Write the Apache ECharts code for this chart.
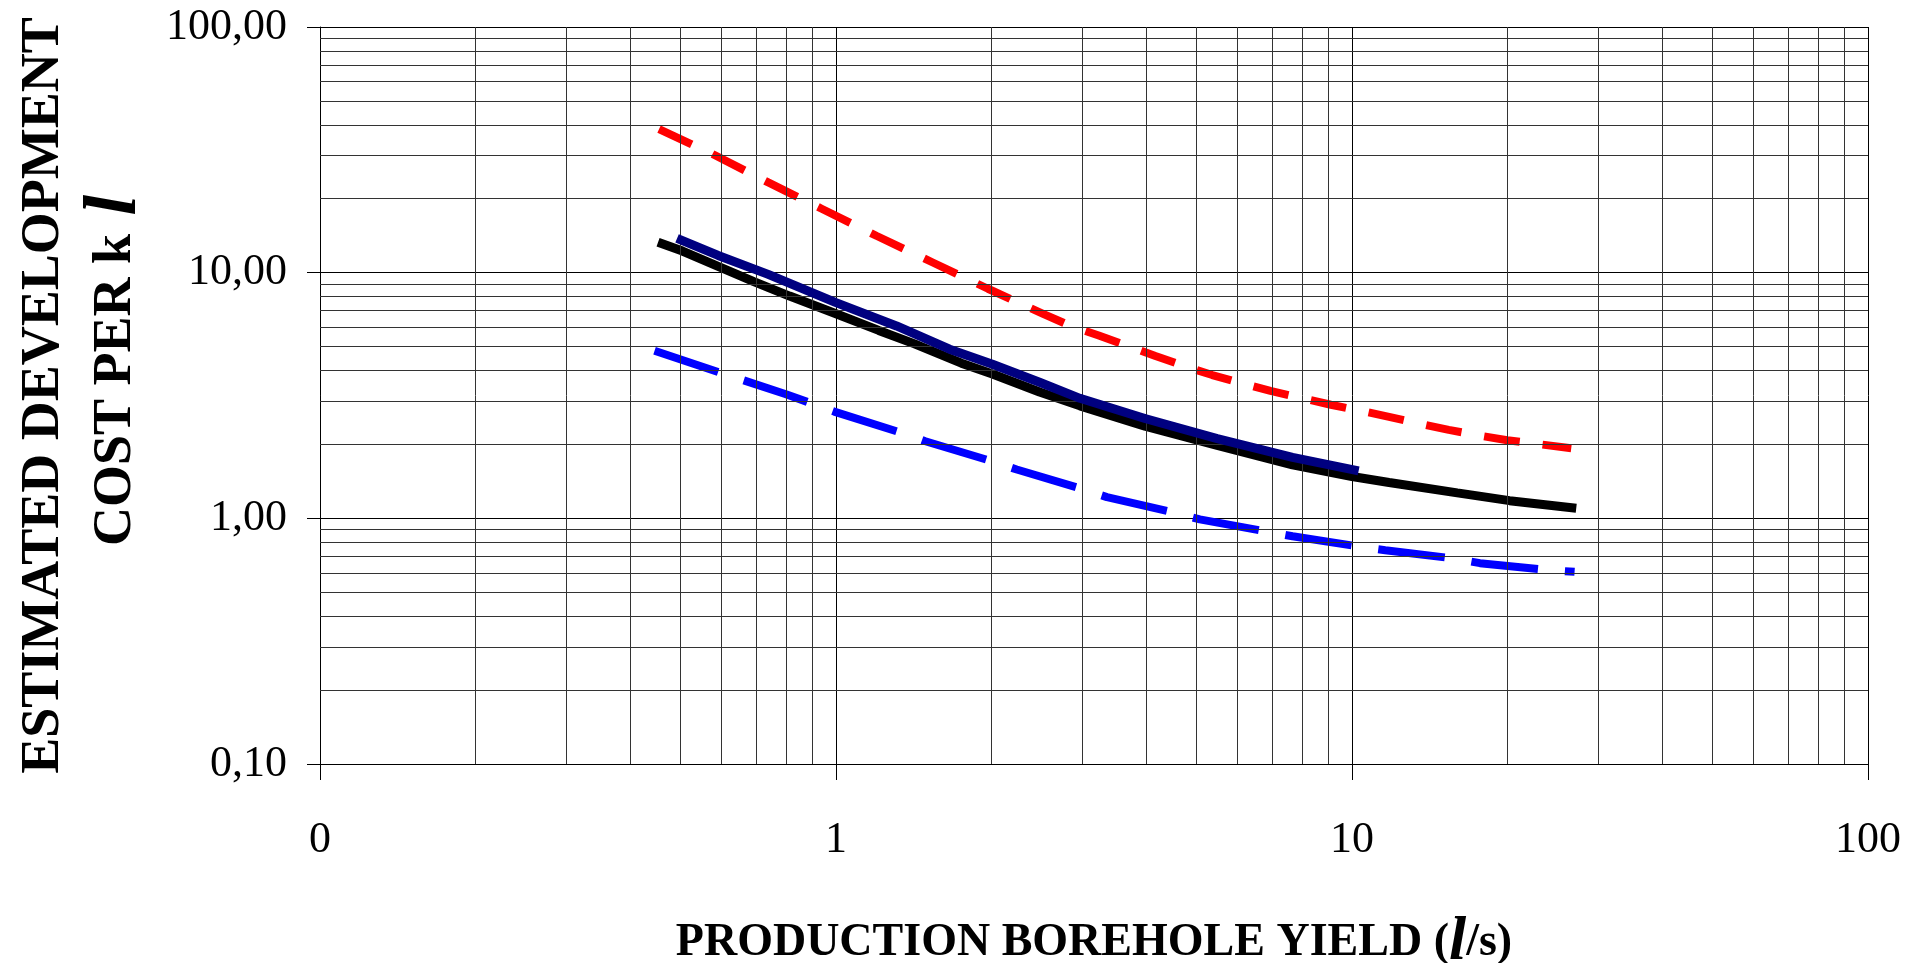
<!DOCTYPE html>
<html>
<head>
<meta charset="utf-8">
<script src="https://cdn.jsdelivr.net/npm/echarts@6/dist/echarts.min.js"></script>
<style>
  html, body { margin: 0; padding: 0; background: #ffffff; }
  #chart { width: 1926px; height: 963px; }
</style>
</head>
<body>
<div id="chart"></div>
<script>
// Axis ticks and their printed labels
const xTickValues = [0.1, 1, 10, 100];
const xTickLabels = ['0', '1', '10', '100'];
const yTickValues = [0.1, 1, 10, 100];
const yTickLabels = ['0,10', '1,00', '10,00', '100,00'];

// Upper estimate (red dashed)
const upperX = [0.454, 0.573, 0.739, 0.938, 1.20, 1.54, 1.97, 2.52, 2.86, 3.23, 3.71, 4.16, 4.78, 5.36, 6.2, 6.95, 8.03, 9.1, 10.4, 11.8, 13.5, 15.4, 17.7, 20.0, 23.2, 26.6];
const upperY = [38.4, 30.6, 23.3, 18.2, 14.1, 11.0, 8.6, 6.8, 6.05, 5.55, 5.0, 4.58, 4.14, 3.83, 3.52, 3.30, 3.08, 2.90, 2.74, 2.59, 2.43, 2.29, 2.17, 2.08, 2.0, 1.93];

// Lower estimate (blue dashed)
const lowerX = [0.445, 0.596, 0.80, 0.992, 1.33, 1.49, 2.0, 2.24, 2.99, 3.35, 4.49, 5.07, 6.8, 7.67, 10.3, 11.6, 15.7, 17.7, 23.7, 27.0];
const lowerY = [4.81, 3.92, 3.20, 2.72, 2.24, 2.06, 1.71, 1.58, 1.32, 1.22, 1.06, 0.99, 0.885, 0.845, 0.768, 0.742, 0.687, 0.657, 0.617, 0.606];

// Average cost (black)
const averageX = [0.452, 0.504, 0.591, 0.693, 0.813, 1.0, 1.21, 1.42, 1.75, 2.01, 2.48, 2.97, 3.97, 5.48, 7.67, 10.0, 11.8, 16.0, 20.2, 27.2];
const averageY = [13.3, 12.25, 10.6, 9.2, 8.03, 6.8, 5.82, 5.13, 4.28, 3.87, 3.27, 2.87, 2.37, 1.98, 1.65, 1.48, 1.40, 1.27, 1.18, 1.10];

// Fitted cost (navy)
const fittedX = [0.492, 0.591, 0.739, 1.0, 1.31, 1.66, 2.01, 2.48, 2.97, 3.97, 5.48, 7.67, 10.3];
const fittedY = [13.8, 11.75, 9.84, 7.55, 6.07, 4.88, 4.24, 3.58, 3.08, 2.55, 2.11, 1.77, 1.56];

const FONT = '"Liberation Serif", "Times New Roman", serif';

function pairs(xs, ys) {
  return xs.map((x, i) => [x, ys[i]]);
}

function tickLabel(values, labels) {
  return function (v) {
    const lv = Math.log10(v);
    for (let i = 0; i < values.length; i++) {
      if (Math.abs(Math.log10(values[i]) - lv) < 1e-6) return labels[i];
    }
    return '';
  };
}

// Minor grid lines at 2..9 inside each decade of the log axes
const minorGrid = [];
[0.1, 1, 10].forEach(function (decade) {
  for (let k = 2; k <= 9; k++) minorGrid.push(+(decade * k).toPrecision(6));
});

const gridLineStyle = { color: '#333333', width: 1, type: 'solid' };

const titleRich = {
  t: { fontFamily: FONT, fontWeight: 'bold', fontSize: 46, color: '#000' },
  l: { fontFamily: FONT, fontWeight: 'bold', fontStyle: 'italic', fontSize: 62, color: '#000' }
};
const yTitleRich = {
  t: { fontFamily: FONT, fontWeight: 'bold', fontSize: 54, lineHeight: 72, color: '#000' },
  l: { fontFamily: FONT, fontWeight: 'bold', fontStyle: 'italic', fontSize: 74, lineHeight: 72, color: '#000' },
  g: { fontFamily: FONT, fontSize: 54, lineHeight: 72, width: 50 }
};

const chart = echarts.init(document.getElementById('chart'), null, { renderer: 'canvas' });

chart.setOption({
  animation: false,
  backgroundColor: '#ffffff',
  grid: { left: 320, right: 58, top: 27, bottom: 199, containLabel: false, outerBoundsMode: 'none' },
  xAxis: {
    type: 'log',
    logBase: 10,
    min: 0.1,
    max: 100,
    name: '{t|PRODUCTION BOREHOLE YIELD (}{l|l}{t|/s)}',
    nameLocation: 'middle',
    nameGap: 148,
    nameTextStyle: { rich: titleRich },
    axisLine: { show: true, lineStyle: { color: '#000', width: 1 } },
    axisTick: { show: true, inside: false, length: 16, lineStyle: { color: '#000', width: 1 } },
    axisLabel: {
      margin: 54,
      fontFamily: FONT,
      fontSize: 44,
      color: '#000',
      formatter: tickLabel(xTickValues, xTickLabels)
    },
    splitLine: { show: true, lineStyle: { color: '#000', width: 1 } },
    minorTick: { show: false },
    minorSplitLine: { show: false }
  },
  yAxis: {
    type: 'log',
    logBase: 10,
    min: 0.1,
    max: 100,
    name: '{t|ESTIMATED DEVELOPMENT}\n{g| }{t|COST PER k}{l| l}',
    nameLocation: 'middle',
    nameRotate: 90,
    nameGap: 168,
    nameTextStyle: { rich: yTitleRich, align: 'center' },
    axisLine: { show: true, lineStyle: { color: '#000', width: 1 } },
    axisTick: { show: true, inside: false, length: 13, lineStyle: { color: '#000', width: 1 } },
    axisLabel: {
      margin: 33,
      fontFamily: FONT,
      fontSize: 44,
      color: '#000',
      formatter: tickLabel(yTickValues, yTickLabels)
    },
    splitLine: { show: true, lineStyle: { color: '#000', width: 1 } },
    minorTick: { show: false },
    minorSplitLine: { show: false }
  },
  series: [
    {
      name: 'grid',
      type: 'line',
      data: [],
      z: 1,
      silent: true,
      markLine: {
        silent: true,
        symbol: ['none', 'none'],
        label: { show: false },
        lineStyle: gridLineStyle,
        emphasis: { disabled: true },
        animation: false,
        data: minorGrid.map(v => ({ xAxis: v })).concat(minorGrid.map(v => ({ yAxis: v })))
      }
    },
    {
      name: 'Upper',
      type: 'line',
      data: pairs(upperX, upperY),
      showSymbol: false,
      z: 3,
      lineStyle: { color: '#ff0000', width: 8, type: [36, 23], cap: 'butt' }
    },
    {
      name: 'Lower',
      type: 'line',
      data: pairs(lowerX, lowerY),
      showSymbol: false,
      z: 3,
      lineStyle: { color: '#0000ff', width: 8, type: [67, 27], cap: 'butt' }
    },
    {
      name: 'Average',
      type: 'line',
      data: pairs(averageX, averageY),
      showSymbol: false,
      z: 4,
      lineStyle: { color: '#000000', width: 9, type: 'solid' }
    },
    {
      name: 'Fitted',
      type: 'line',
      data: pairs(fittedX, fittedY),
      showSymbol: false,
      z: 5,
      lineStyle: { color: '#000080', width: 9, type: 'solid' }
    }
  ]
});
</script>
</body>
</html>
